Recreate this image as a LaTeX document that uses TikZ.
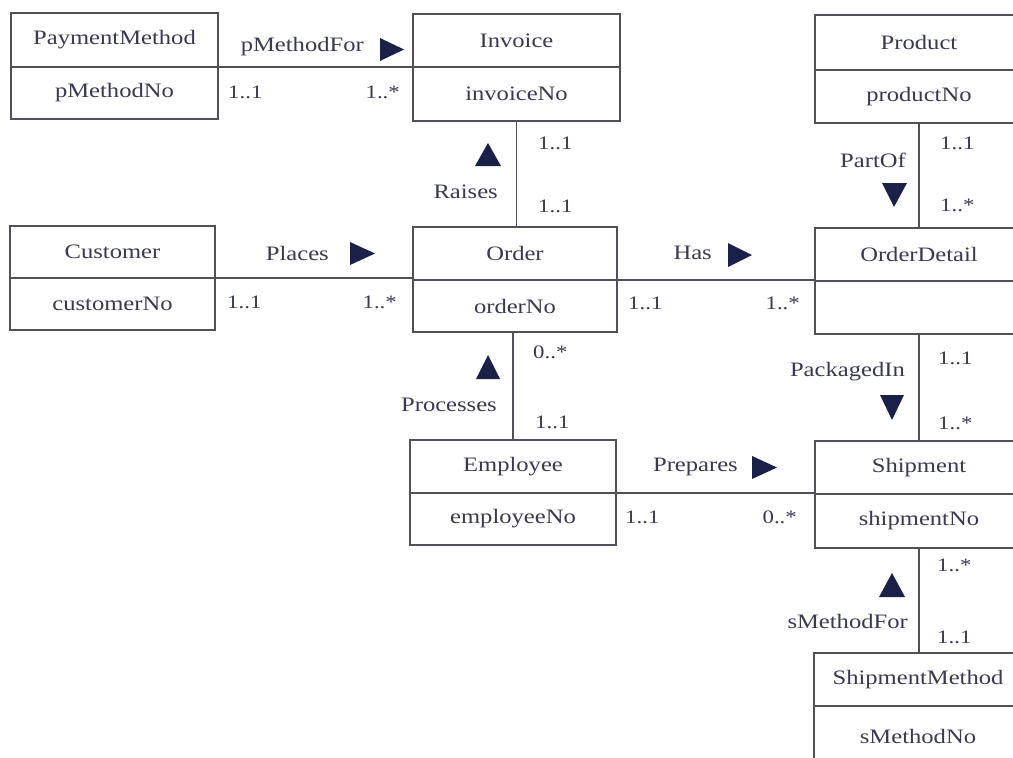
\documentclass[tikz,border=0pt]{standalone}
\usepackage{fontspec}
\setmainfont{Liberation Serif}[FakeStretch=1.2]
\definecolor{txt}{HTML}{3A3A4E}
\definecolor{linec}{HTML}{505058}
\definecolor{tric}{HTML}{1B2049}
\begin{document}
\begin{tikzpicture}[x=1pt,y=-1pt,
  cls/.style={draw=linec, line width=1.3pt, anchor=north west, inner sep=0pt, outer sep=0pt,
    text=txt, font=\fontsize{20.5}{24}\selectfont},
  lbl/.style={inner sep=0pt, text=txt, font=\fontsize{20.5}{24}\selectfont, anchor=east},
  mult/.style={inner sep=0pt, text=txt, font=\fontsize{19}{22}\selectfont},
  conn/.style={draw=linec, line width=1.3pt},
  tri/.style={fill=tric}]
\useasboundingbox (0,0) rectangle (1013,758);
\clip (0,0) rectangle (1013,758);
\fill[white] (0,0) rectangle (1013,758);

% classes
\node[cls, minimum width=207pt, minimum height=54pt] (pm) at (11,13) {PaymentMethod};
\node[cls, minimum width=207pt, minimum height=52pt] (pmb) at (pm.south west) {pMethodNo};

\node[cls, minimum width=207pt, minimum height=53pt] (inv) at (413,14) {Invoice};
\node[cls, minimum width=207pt, minimum height=54pt] (invb) at (inv.south west) {invoiceNo};

\node[cls, minimum width=208pt, minimum height=55pt] (prod) at (815,15) {Product};
\node[cls, minimum width=208pt, minimum height=53pt] (prodb) at (prod.south west) {productNo};

\node[cls, minimum width=205pt, minimum height=52pt] (cust) at (10,226) {Customer};
\node[cls, minimum width=205pt, minimum height=52pt] (custb) at (cust.south west) {customerNo};

\node[cls, minimum width=204pt, minimum height=53pt] (ord) at (413,227) {Order};
\node[cls, minimum width=204pt, minimum height=52pt] (ordb) at (ord.south west) {orderNo};

\node[cls, minimum width=208pt, minimum height=53pt] (od) at (815,228) {OrderDetail};
\node[cls, minimum width=208pt, minimum height=53pt] (odb) at (od.south west) {};

\node[cls, minimum width=206pt, minimum height=53pt] (emp) at (410,440) {Employee};
\node[cls, minimum width=206pt, minimum height=52pt] (empb) at (emp.south west) {employeeNo};

\node[cls, minimum width=208pt, minimum height=53pt] (ship) at (815,441) {Shipment};
\node[cls, minimum width=208pt, minimum height=54pt] (shipb) at (ship.south west) {shipmentNo};

\node[cls, minimum width=208pt, minimum height=53pt] (sm) at (814,653) {ShipmentMethod};
\node[cls, minimum width=208pt, minimum height=60pt] (smb) at (sm.south west) {sMethodNo};

% connectors
\draw[conn] (pm.south east) -- (pm.south east -| inv.west);
\draw[conn] (cust.south east) -- (cust.south east -| ord.west);
\draw[conn] (ord.south east) -- (ord.south east -| od.west);
\draw[conn] (emp.south east) -- (emp.south east -| ship.west);
\draw[conn] (invb.south) -- (invb.south |- ord.north);
\draw[conn] (prodb.south) -- (prodb.south |- od.north);
\draw[conn] (emp.north |- ordb.south) -- (emp.north);
\draw[conn] (odb.south) -- (odb.south |- ship.north);
\draw[conn] (shipb.south) -- (shipb.south |- sm.north);

% relationship names
\node[lbl] (l1) at (364,47) {pMethodFor};
\node[lbl] (l2) at (329,253) {Places};
\node[lbl] (l3) at (712,253) {Has};
\node[lbl] (l4) at (738,467) {Prepares};
\node[lbl] (l5) at (498,192) {Raises};
\node[lbl] (l6) at (906,160) {PartOf};
\node[lbl] (l7) at (497,405) {Processes};
\node[lbl] (l8) at (905,372) {PackagedIn};
\node[lbl] (l9) at (908,621) {sMethodFor};

% direction triangles
\fill[tri] (380,38) -- (404,49.5) -- (380,61) -- cycle;
\fill[tri] (350,242) -- (375,253.5) -- (350,265) -- cycle;
\fill[tri] (728,243) -- (752,255) -- (728,267) -- cycle;
\fill[tri] (752,456) -- (777,467.5) -- (752,479) -- cycle;
\fill[tri] (475,166) -- (488,143) -- (501,166) -- cycle;
\fill[tri] (882,183) -- (894,207) -- (907,183) -- cycle;
\fill[tri] (476,379) -- (488,355) -- (500,379) -- cycle;
\fill[tri] (880,395) -- (892,420) -- (904,395) -- cycle;
\fill[tri] (879,597) -- (892,573) -- (905,597) -- cycle;

% multiplicities
\node[mult, anchor=west] (m1) at (228,92) {1..1};
\node[mult, anchor=east] (m2) at (400,92) {1..*};
\node[mult, anchor=west] (m3) at (227,302) {1..1};
\node[mult, anchor=east] (m4) at (397,302) {1..*};
\node[mult, anchor=west] (m5) at (628,303) {1..1};
\node[mult, anchor=east] (m6) at (800,303) {1..*};
\node[mult, anchor=west] (m7) at (625,517) {1..1};
\node[mult, anchor=east] (m8) at (797,517) {0..*};
\node[mult, anchor=west] (m9) at (538,143) {1..1};
\node[mult, anchor=west] (m10) at (538,206) {1..1};
\node[mult, anchor=west] (m11) at (940,143) {1..1};
\node[mult, anchor=west] (m12) at (940,205) {1..*};
\node[mult, anchor=west] (m13) at (533,352) {0..*};
\node[mult, anchor=west] (m14) at (535,422) {1..1};
\node[mult, anchor=west] (m15) at (938,358) {1..1};
\node[mult, anchor=west] (m16) at (938,423) {1..*};
\node[mult, anchor=west] (m17) at (937,565) {1..*};
\node[mult, anchor=west] (m18) at (937,637) {1..1};
\end{tikzpicture}
\end{document}
